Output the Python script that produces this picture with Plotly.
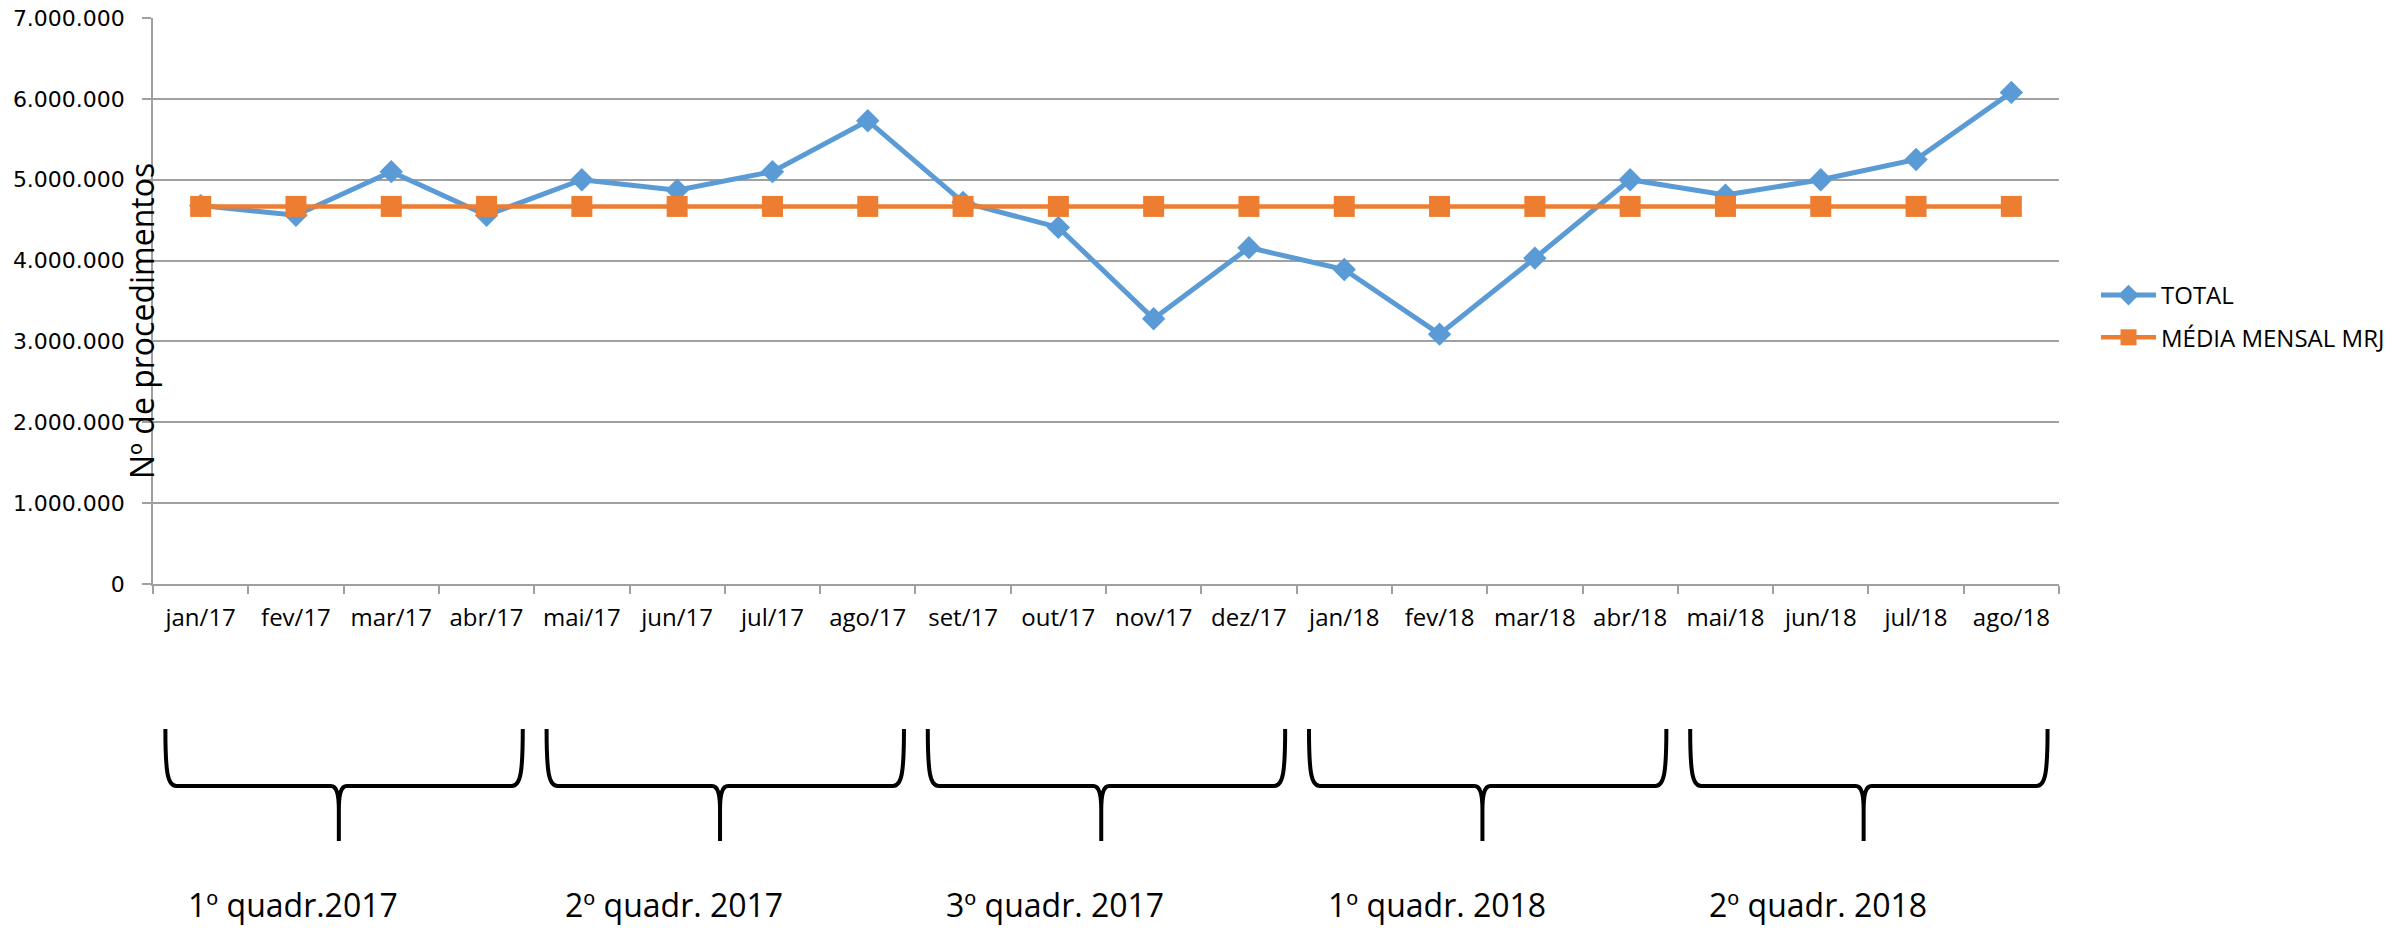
import plotly.graph_objects as go

# monthly data (procedures)
months = ["jan/17", "fev/17", "mar/17", "abr/17", "mai/17", "jun/17", "jul/17", "ago/17",
          "set/17", "out/17", "nov/17", "dez/17", "jan/18", "fev/18", "mar/18", "abr/18",
          "mai/18", "jun/18", "jul/18", "ago/18"]
total = [4680000, 4560000, 5100000, 4560000, 5000000, 4870000, 5100000, 5730000,
         4720000, 4410000, 3280000, 4160000, 3890000, 3090000, 4030000, 5000000,
         4810000, 5000000, 5250000, 6080000]
media_mensal = [4670000] * 20

# quadrimester groups (first month index, last month index) and their labels
quadr_groups = [(0, 3), (4, 7), (8, 11), (12, 15), (16, 19)]
quadr_labels = ["1º quadr.2017", "2º quadr. 2017", "3º quadr. 2017", "1º quadr. 2018", "2º quadr. 2018"]

y_ticks = [0, 1000000, 2000000, 3000000, 4000000, 5000000, 6000000, 7000000]

W, H = 2405, 930
L, R, T, B = 153, 346, 18, 346
PW, PH = W - L - R, H - T - B
N = len(months)
x_idx = list(range(N))

def px(xp):
    return (xp - L) / PW

def py(yp):
    return (H - B - yp) / PH

def idx_px(i):
    return L + (i + 0.5) * PW / N

def brace_path(x0, x1, xm, ytop=729, yh=786, ypt=841):
    return (
        f"M {px(x0)},{py(ytop)} "
        f"C {px(x0)},{py(yh - 14)} {px(x0 + 2)},{py(yh)} {px(x0 + 11)},{py(yh)} "
        f"L {px(xm - 8)},{py(yh)} "
        f"C {px(xm - 2)},{py(yh)} {px(xm)},{py(yh + 8)} {px(xm)},{py(yh + 24)} "
        f"L {px(xm)},{py(ypt)} "
        f"M {px(xm)},{py(yh + 24)} "
        f"C {px(xm)},{py(yh + 8)} {px(xm + 2)},{py(yh)} {px(xm + 8)},{py(yh)} "
        f"L {px(x1 - 11)},{py(yh)} "
        f"C {px(x1 - 2)},{py(yh)} {px(x1)},{py(yh - 14)} {px(x1)},{py(ytop)}"
    )

fig = go.Figure()

fig.add_trace(go.Scatter(
    x=x_idx, y=total, mode="lines+markers", name="TOTAL", legendgroup="a",
    line=dict(color="#5B9BD5", width=5),
    marker=dict(symbol="diamond", size=18, color="#5B9BD5"),
))
fig.add_trace(go.Scatter(
    x=x_idx, y=media_mensal, mode="lines+markers", name="MÉDIA MENSAL MRJ", legendgroup="b",
    line=dict(color="#ED7D31", width=4.5),
    marker=dict(symbol="square", size=21, color="#ED7D31"),
))

shapes = []
for s, e in quadr_groups:
    x0 = idx_px(s - 0.37)
    x1 = idx_px(e + 0.38)
    xm = idx_px((s + e) / 2 - 0.05)
    shapes.append(dict(type="path", xref="paper", yref="paper", path=brace_path(x0, x1, xm),
                       line=dict(color="black", width=4)))

annotations = []
for (s, e), lab in zip(quadr_groups, quadr_labels):
    annotations.append(dict(x=s + 0.97, xref="x", y=py(928), yref="paper", text=lab,
                            showarrow=False, xanchor="center", yanchor="bottom",
                            font=dict(family="Open Sans", size=32, color="black")))

annotations.append(dict(x=px(141), xref="paper", y=py(321), yref="paper",
                        text="Nº de procedimentos", textangle=-90, showarrow=False,
                        xanchor="center", yanchor="middle",
                        font=dict(family="Open Sans", size=32, color="black")))

fig.update_layout(
    width=W, height=H,
    margin=dict(l=L, r=R, t=T, b=B),
    plot_bgcolor="white", paper_bgcolor="white",
    separators=",.",
    shapes=shapes,
    annotations=annotations,
    xaxis=dict(
        range=[-0.5, N - 0.5], automargin=False,
        tickmode="array", tickvals=x_idx, ticktext=months,
        ticks="", showgrid=False, zeroline=False,
        showline=True, linecolor="#a0a0a0", linewidth=1.5,
        tickfont=dict(family="Open Sans", size=24, color="black"),
        ticklabelstandoff=11,
        minor=dict(tickmode="array", tickvals=[i - 0.5 for i in range(N + 1)],
                   ticks="outside", ticklen=8, tickcolor="#a0a0a0", tickwidth=1.5,
                   showgrid=False),
    ),
    yaxis=dict(
        range=[0, 7000000], automargin=False,
        tickmode="array", tickvals=y_ticks, tickformat=",d",
        ticks="outside", ticklen=9, tickcolor="#a0a0a0", tickwidth=1.5,
        showgrid=True, gridcolor="#a0a0a0", gridwidth=1.5, zeroline=False,
        showline=True, linecolor="#a0a0a0", linewidth=1.5,
        tickfont=dict(family="DejaVu Sans", size=22, color="black"),
        ticklabelstandoff=13,
    ),
    legend=dict(
        x=px(2096), xanchor="left", y=py(273), yanchor="top",
        font=dict(family="Open Sans", size=24, color="black"),
        traceorder="grouped", tracegroupgap=8, itemwidth=55,
        bgcolor="rgba(0,0,0,0)",
    ),
    showlegend=True,
)

fig.write_html("out.html", config={"displayModeBar": False},
               post_script="document.body.style.margin='0px';")
